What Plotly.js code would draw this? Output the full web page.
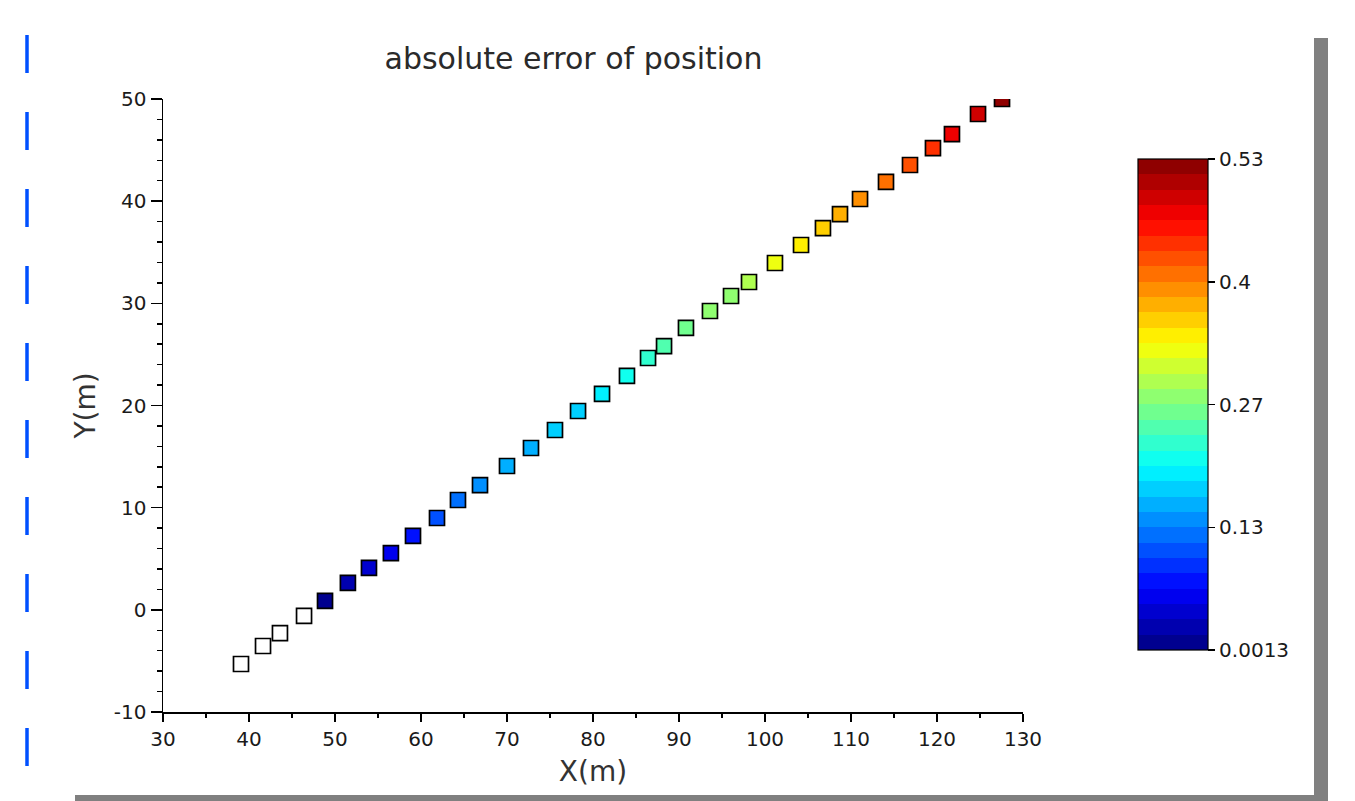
<!DOCTYPE html>
<html>
<head>
<meta charset="utf-8">
<script src="https://cdn.plot.ly/plotly-3.0.1.min.js"></script>
<style>
html,body{margin:0;padding:0;background:#fff;}
#chart{width:1355px;height:801px;}
</style>
</head>
<body>
<div id="chart"></div>
<script>
// Points without an error value (drawn hollow)
const hollowX = [39.07, 41.63, 43.6, 46.4];
const hollowY = [-5.30, -3.54, -2.27, -0.6];

// Points with an absolute position error
const posX = [48.84, 51.5, 53.95, 56.5, 59.07, 61.86, 64.3, 66.86, 70.0, 72.79,
              75.58, 78.26, 81.05, 83.95, 86.4, 88.26, 90.81, 93.6, 96.05, 98.14,
              101.16, 104.19, 106.74, 108.72, 111.05, 114.07, 116.86, 119.53, 121.74, 124.77,
              127.56];
const posY = [0.87, 2.63, 4.1, 5.56, 7.23, 8.99, 10.75, 12.2, 14.08, 15.84,
              17.6, 19.46, 21.13, 22.89, 24.65, 25.82, 27.59, 29.25, 30.72, 32.09,
              33.95, 35.71, 37.37, 38.74, 40.21, 41.88, 43.54, 45.2, 46.57, 48.53,
              50.0];
const absErr = [0.0013, 0.026, 0.043, 0.059, 0.076, 0.108, 0.125, 0.140, 0.155, 0.165,
                0.172, 0.180, 0.195, 0.208, 0.224, 0.241, 0.256, 0.270, 0.280, 0.292,
                0.322, 0.335, 0.356, 0.373, 0.390, 0.410, 0.422, 0.440, 0.470, 0.489,
                0.53];

const xTickVals = [30, 40, 50, 60, 70, 80, 90, 100, 110, 120, 130];
const xTickText = ['30', '40', '50', '60', '70', '80', '90', '100', '110', '120', '130'];
const yTickVals = [-10, 0, 10, 20, 30, 40, 50];
const yTickText = ['-10', '0', '10', '20', '30', '40', '50'];
const cbTickVals = [0.0013, 0.13348, 0.26565, 0.39783, 0.53];
const cbTickText = ['0.0013', '0.13', '0.27', '0.4', '0.53'];

// Scilab-style jet colormap with 32 levels, as a stepwise colorscale
function interp(xs, ys, x){
  for (let i = 0; i < xs.length - 1; i++){
    if (x >= xs[i] && x <= xs[i+1]){
      return ys[i] + (ys[i+1]-ys[i])*(x-xs[i])/(xs[i+1]-xs[i]);
    }
  }
  return ys[ys.length-1];
}
const nLev = 32;
const colorscale = [];
for (let i = 0; i < nLev; i++){
  const x = (i + 0.5) / nLev;
  const r = interp([0, 3/8, 5/8, 7/8, 1], [0, 0, 1, 1, 0.5], x);
  const g = interp([0, 1/8, 3/8, 5/8, 7/8, 1], [0, 0, 1, 1, 0, 0], x);
  const b = interp([0, 1/8, 3/8, 5/8, 1], [0.5, 1, 1, 0, 0], x);
  const c = 'rgb(' + Math.round(r*255) + ',' + Math.round(g*255) + ',' + Math.round(b*255) + ')';
  colorscale.push([i / nLev, c]);
  colorscale.push([(i + 1) / nLev, c]);
}

// pixel helpers for decoration shapes (plot area: x 163..1023, y 99..712)
const L = 163, R = 1023, T = 99, B = 712;
const px = v => (v - L) / (R - L);
const py = v => (B - v) / (B - T);

const font = 'DejaVu Sans, sans-serif';
const tickFont = {family: font, size: 20, color: '#1a1a1a'};

const traces = [
  {
    type: 'scatter', mode: 'markers', x: hollowX, y: hollowY,
    marker: {symbol: 'square', size: 15, color: '#ffffff', line: {color: '#000', width: 1.7}},
    showlegend: false, hoverinfo: 'x+y'
  },
  {
    type: 'scatter', mode: 'markers', x: posX, y: posY,
    marker: {
      symbol: 'square', size: 15, color: absErr,
      cmin: 0.0013, cmax: 0.53, colorscale: colorscale,
      line: {color: '#000', width: 1.7},
      showscale: true,
      colorbar: {
        thickness: 70, thicknessmode: 'pixels',
        len: 491, lenmode: 'pixels',
        x: px(1138), xanchor: 'left', xref: 'paper',
        y: py(404.5), yanchor: 'middle', yref: 'paper',
        xpad: 0, ypad: 0,
        outlinewidth: 1.2, outlinecolor: '#000',
        tickmode: 'array', tickvals: cbTickVals, ticktext: cbTickText,
        ticks: 'outside', ticklen: 7, tickcolor: '#000', tickwidth: 1.5,
        tickfont: tickFont
      }
    },
    showlegend: false
  }
];

const shapes = [
  // blue dashed line on the left
  {type: 'line', xref: 'paper', yref: 'paper', x0: px(27), x1: px(27), y0: py(35), y1: py(766),
   line: {color: 'rgb(0,80,255)', width: 3.5, dash: '38px,39px'}},
  // gray frame shadow on the right
  {type: 'rect', xref: 'paper', yref: 'paper', x0: px(1314), x1: px(1328), y0: py(38), y1: py(801),
   fillcolor: '#808080', line: {width: 0}},
  // gray frame shadow at the bottom
  {type: 'rect', xref: 'paper', yref: 'paper', x0: px(75), x1: px(1328), y0: py(795), y1: py(801),
   fillcolor: '#808080', line: {width: 0}}
];

const layout = {
  width: 1355, height: 801,
  margin: {l: L, r: 1355 - R, t: T, b: 801 - B, pad: 0},
  paper_bgcolor: '#fff', plot_bgcolor: '#fff',
  font: {family: font, color: '#1a1a1a'},
  title: {
    text: 'absolute error of position',
    font: {family: font, size: 30, color: '#2a2a2a'},
    x: (573.5 - L) / (R - L), xref: 'paper', xanchor: 'center',
    y: 1 - 58 / 801, yref: 'container', yanchor: 'middle'
  },
  xaxis: {
    range: [30, 130], showgrid: false, zeroline: false,
    showline: true, linecolor: '#000', linewidth: 1.5, mirror: false,
    tickmode: 'array', tickvals: xTickVals, ticktext: xTickText,
    ticks: 'outside', ticklen: 8, tickwidth: 1.5, tickcolor: '#000',
    minor: {dtick: 5, tick0: 30, ticks: 'outside', ticklen: 4, tickwidth: 1.5, tickcolor: '#000', showgrid: false},
    tickfont: tickFont,
    title: {text: 'X(m)', font: {family: font, size: 28, color: '#333'}, standoff: 12}
  },
  yaxis: {
    range: [-10, 50], showgrid: false, zeroline: false,
    showline: true, linecolor: '#000', linewidth: 1.5, mirror: false,
    tickmode: 'array', tickvals: yTickVals, ticktext: yTickText,
    ticks: 'outside', ticklen: 11, tickwidth: 1.5, tickcolor: '#000',
    minor: {dtick: 2, tick0: 0, ticks: 'outside', ticklen: 5, tickwidth: 1.5, tickcolor: '#000', showgrid: false},
    tickfont: tickFont,
    title: {text: 'Y(m)', font: {family: font, size: 28, color: '#333'}, standoff: 10}
  },
  shapes: shapes
};

Plotly.newPlot('chart', traces, layout, {displayModeBar: false, staticPlot: true});
</script>
</body>
</html>
